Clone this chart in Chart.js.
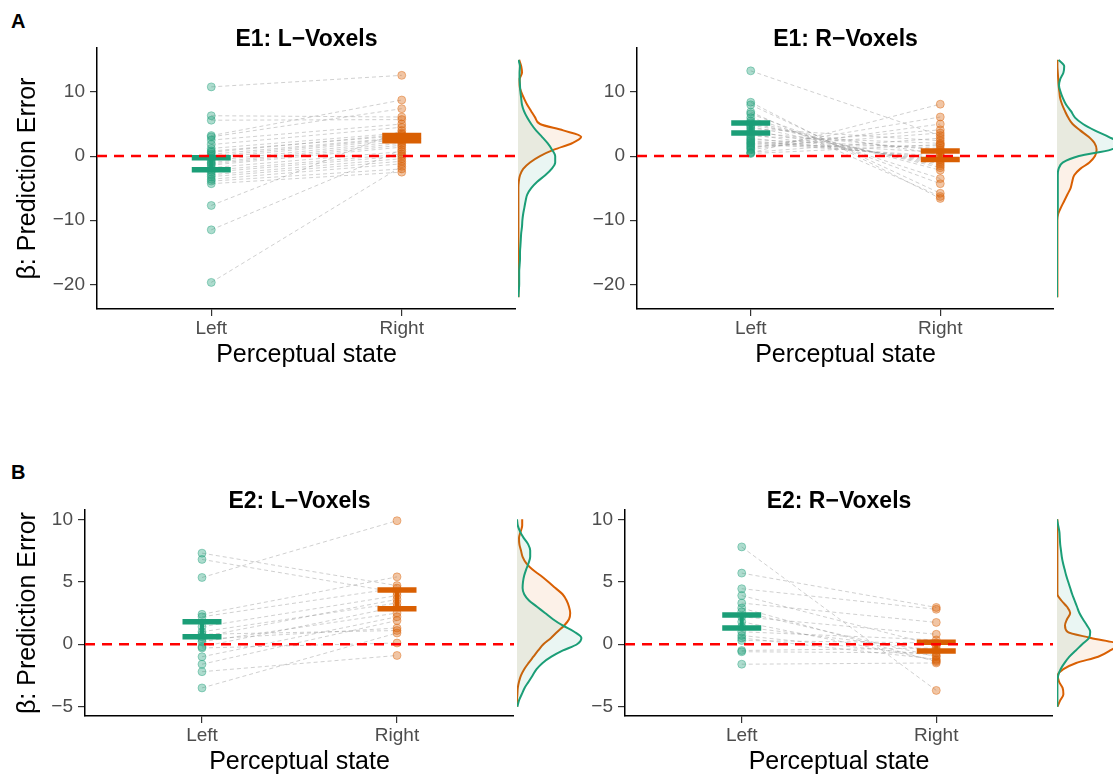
<!DOCTYPE html>
<html lang="en">
<head>
  <meta charset="UTF-8" />
  <title>Prediction error by perceptual state</title>
  <script src="https://cdn.jsdelivr.net/npm/chart.js"></script>
  <style>
    html, body { margin: 0; padding: 0; background: #fff; overflow: hidden; }
    #page { position: relative; width: 1113px; height: 774px; overflow: hidden; font-family: 'Liberation Sans', Arial, sans-serif; }
    #page canvas { position: absolute; }
    .tag { position: absolute; font-weight: bold; font-size: 20px; color: #000; }
  </style>
</head>
<body>
<div id="page">
  <div class="tag" style="left:11px; top:10px">A</div>
  <div class="tag" style="left:11px; top:461px">B</div>
  <canvas id="e1l"></canvas>
  <canvas id="e1l-dens"></canvas>
  <canvas id="e1r"></canvas>
  <canvas id="e1r-dens"></canvas>
  <canvas id="e2l"></canvas>
  <canvas id="e2l-dens"></canvas>
  <canvas id="e2r"></canvas>
  <canvas id="e2r-dens"></canvas>
</div>

<script>
  // ---- data ----
  const states = ['Left', 'Right'];

  // E1, L-voxels (one value per subject, same order in both arrays)
  const e1L_left  = [10.8, 6.3, 5.6, 3.2, 3.0, 2.5, 1.8, 1.2, 0.8, 0.6, 0.3, 0, -0.3, -0.7, -1.0, -1.2, -1.4, -1.8, -2.2, -2.5, -2.9, -3.2, -3.6, -3.9, -4.3, -7.7, -11.5, -19.7];
  const e1L_right = [12.6, 6.1, 5.7, 8.75, 7.4, 5.0, 4.5, 3.6, 3.2, 3.4, 2.9, 2.8, 2.6, 2.3, 2.0, 1.7, 1.4, 0.7, 0.3, 0, -0.4, -0.8, -1.2, -2.0, -2.5, 4.0, 1.0, -1.6];
  const e1L_errLeft  = [-2.14, -0.26];
  const e1L_errRight = [2.4, 3.2];

  // E1, R-voxels
  const e1R_left  = [13.3, 8.4, 8.0, 6.9, 6.6, 6.0, 5.5, 5.2, 4.8, 4.6, 4.3, 4.0, 3.7, 3.4, 3.1, 2.8, 2.6, 2.4, 2.2, 2.0, 1.8, 1.6, 1.4, 1.2, 1.0, 0.6, 0.5, 0.4];
  const e1R_right = [3.2, -6.6, -5.8, -6.3, -4.3, -3.5, -2.2, -1.8, 0.3, -1.5, 2.4, -1.2, 0.9, -0.9, 2.0, -0.6, 1.2, -0.3, 0.6, 0, 4.1, 1.6, 3.6, 6.1, 5.0, 2.8, 8.1, 1.8];
  const e1R_errLeft  = [3.6, 5.16];
  const e1R_errRight = [-0.52, 0.78];

  // E2, L-voxels
  const e2L_left  = [7.3, 6.8, 5.35, 2.4, 2.2, 1.4, 1.0, 0.8, 0.6, 0.4, 0.2, -0.2, -0.3, -1.0, -1.6, -2.2, -3.5];
  const e2L_right = [4.7, 4.15, 9.9, 5.4, 4.5, 3.9, 3.3, 1.1, 3.6, 1.3, 2.5, 3.0, 0.1, 2.2, 1.9, -0.9, 0.9];
  const e2L_errLeft  = [0.6, 1.8];
  const e2L_errRight = [2.85, 4.34];

  // E2, R-voxels
  const e2R_left  = [7.8, 5.7, 4.45, 3.9, 3.3, 2.9, 2.6, 2.2, 1.8, 1.4, 1.0, 0.7, 0.5, 0.3, -0.5, -0.6, -1.6];
  const e2R_right = [-3.7, 2.95, 2.8, -0.1, 1.75, -1.4, -1.0, 0.8, -1.3, -0.5, 0.35, -0.9, -1.2, 0.1, -0.3, -0.7, -1.5];
  const e2R_errLeft  = [1.3, 2.34];
  const e2R_errRight = [-0.54, 0.16];

  // density curves (value grid, density at each grid value)
  const gridE1 = [15, 14, 13, 12, 11, 10, 9, 8, 7, 6, 5, 4, 3, 2, 1, 0, -1, -2, -3, -4, -5, -6, -7, -8, -9, -10, -11, -12, -13, -14, -15, -16, -17, -18, -19, -20, -21, -22];
  const gridE2 = [10, 9.5, 9, 8.5, 8, 7.5, 7, 6.5, 6, 5.5, 5, 4.5, 4, 3.5, 3, 2.5, 2, 1.5, 1, 0.5, 0, -0.5, -1, -1.5, -2, -2.5, -3, -3.5, -4, -4.5, -5];

  const e1L_densLeft  = [0.001, 0.005, 0.004, 0.004, 0.005, 0.006, 0.008, 0.010, 0.015, 0.023, 0.033, 0.045, 0.060, 0.074, 0.085, 0.093, 0.093, 0.084, 0.068, 0.048, 0.033, 0.023, 0.019, 0.016, 0.013, 0.011, 0.010, 0.008, 0.007, 0.006, 0.005, 0.005, 0.004, 0.003, 0.003, 0.003, 0.002, 0.001];
  const e1L_densRight = [0.003, 0.008, 0.010, 0.004, 0.004, 0.008, 0.015, 0.023, 0.033, 0.043, 0.055, 0.113, 0.158, 0.135, 0.090, 0.055, 0.030, 0.013, 0.005, 0.002, 0.001, 0.001, 0.001, 0.001, 0.001, 0.001, 0.001, 0.001, 0.001, 0.001, 0.001, 0.001, 0.001, 0.001, 0.001, 0.001, 0.001, 0.001];
  const e1R_densLeft  = [0.004, 0.018, 0.016, 0.008, 0.005, 0.009, 0.015, 0.023, 0.035, 0.045, 0.065, 0.094, 0.129, 0.155, 0.135, 0.055, 0.015, 0.004, 0.002, 0.002, 0.002, 0.002, 0.002, 0.002, 0.001, 0, 0, 0, 0, 0, 0, 0, 0, 0, 0, 0, 0, 0];
  const e1R_densRight = [0.001, 0.001, 0.002, 0.003, 0.004, 0.006, 0.008, 0.013, 0.020, 0.028, 0.039, 0.058, 0.079, 0.094, 0.099, 0.095, 0.081, 0.058, 0.043, 0.038, 0.034, 0.026, 0.018, 0.010, 0.003, 0.001, 0.001, 0.001, 0.001, 0.001, 0.001, 0.001, 0.001, 0.001, 0.001, 0.001, 0.001, 0.001];
  const e2L_densLeft  = [0, 0.002, 0.008, 0.017, 0.028, 0.033, 0.033, 0.029, 0.023, 0.018, 0.015, 0.014, 0.018, 0.030, 0.050, 0.070, 0.090, 0.114, 0.143, 0.161, 0.150, 0.115, 0.086, 0.064, 0.049, 0.039, 0.029, 0.019, 0.012, 0.005, 0.001];
  const e2L_densRight = [0.013, 0.013, 0.009, 0.005, 0.006, 0.010, 0.014, 0.023, 0.038, 0.059, 0.078, 0.096, 0.114, 0.124, 0.130, 0.133, 0.130, 0.118, 0.101, 0.085, 0.066, 0.053, 0.041, 0.029, 0.018, 0.010, 0.005, 0.002, 0.001, 0, 0];
  const e2R_densLeft  = [0, 0.003, 0.006, 0.007, 0.008, 0.010, 0.012, 0.015, 0.019, 0.023, 0.028, 0.033, 0.038, 0.044, 0.050, 0.056, 0.065, 0.075, 0.083, 0.080, 0.063, 0.047, 0.031, 0.019, 0.009, 0.003, 0.001, 0.001, 0.001, 0.001, 0.001];
  const e2R_densRight = [0.001, 0.001, 0.001, 0.001, 0.001, 0.001, 0.001, 0.001, 0.001, 0.001, 0.001, 0.001, 0.001, 0.011, 0.025, 0.033, 0.025, 0.020, 0.026, 0.085, 0.153, 0.133, 0.103, 0.048, 0.016, 0.002, 0.005, 0.014, 0.016, 0.008, 0.001];

  const ticksE1 = [-20, -10, 0, 10];
  const ticksE2 = [-5, 0, 5, 10];

  // ---- styling / layout ----
  const TEAL = '#1b9e77';
  const ORANGE = '#d95f02';
  Chart.defaults.font.family = "'Liberation Sans', Arial, sans-serif";

  function place(canvas, left, top, w, h) {
    canvas.width = w;
    canvas.height = h;
    canvas.style.left = left + 'px';
    canvas.style.top = top + 'px';
    canvas.style.width = w + 'px';
    canvas.style.height = h + 'px';
  }

  const zeroLine = {
    id: 'zeroLine',
    afterDatasetsDraw(chart) {
      const { ctx, chartArea: a, scales: { y } } = chart;
      const py = y.getPixelForValue(0);
      ctx.save();
      ctx.strokeStyle = '#ff0000';
      ctx.lineWidth = 2.5;
      ctx.setLineDash([10, 7]);
      ctx.beginPath();
      ctx.moveTo(a.left, py);
      ctx.lineTo(a.right, py);
      ctx.stroke();
      ctx.restore();
    }
  };

  const minus = v => v < 0 ? '\u2212' + Math.abs(v) : String(v);

  function mainChart(id, p) {
    const canvas = document.getElementById(id);
    place(canvas, p.left, p.top, p.width, p.height);

    const pairLines = p.leftVals.map((v, i) => ({
      showLine: true,
      data: [{ x: 1, y: v }, { x: 2, y: p.rightVals[i] }],
      borderColor: 'rgba(150,150,150,0.45)',
      borderWidth: 1,
      borderDash: [4, 3],
      pointRadius: 0,
      order: 3
    }));

    const dots = (vals, x, rgb) => ({
      data: vals.map(v => ({ x, y: v })),
      pointRadius: 4,
      pointBackgroundColor: `rgba(${rgb},0.36)`,
      pointBorderColor: `rgba(${rgb},0.4)`,
      pointBorderWidth: 1,
      order: 2
    });

    const stem = (err, x, col) => ({
      showLine: true,
      data: err.map(v => ({ x, y: v })),
      borderColor: col,
      borderWidth: 4,
      pointRadius: 0,
      order: 1
    });

    const caps = (err, x, col) => ({
      data: err.map(v => ({ x, y: v })),
      pointStyle: 'line',
      pointRadius: 19.5,
      pointBorderColor: col,
      pointBorderWidth: 5.5,
      order: 0
    });

    const grid = { display: true, drawOnChartArea: false, drawTicks: true, tickLength: 7, color: '#333', lineWidth: 1.2 };
    const border = { display: true, color: '#000', width: 1.5 };

    new Chart(canvas, {
      type: 'scatter',
      data: {
        datasets: [
          ...pairLines,
          dots(p.leftVals, 1, '27,158,119'),
          dots(p.rightVals, 2, '217,95,2'),
          stem(p.errLeft, 1, TEAL),
          stem(p.errRight, 2, ORANGE),
          caps(p.errLeft, 1, TEAL),
          caps(p.errRight, 2, ORANGE)
        ]
      },
      options: {
        responsive: false,
        animation: false,
        events: [],
        layout: { padding: 0, autoPadding: false },
        plugins: {
          legend: { display: false },
          tooltip: { enabled: false },
          title: {
            display: true,
            text: p.title,
            color: '#000',
            fullSize: false,
            padding: { top: 13, bottom: 0 },
            font: { size: 23, weight: 'bold', lineHeight: 0.7 }
          }
        },
        scales: {
          x: {
            type: 'linear',
            min: 0.4,
            max: 2.6,
            afterBuildTicks: s => { s.ticks = states.map((_, i) => ({ value: i + 1 })); },
            ticks: { callback: v => states[v - 1], color: '#4d4d4d', font: { size: 19 }, padding: 1, autoSkip: false, maxRotation: 0 },
            grid, border,
            title: { display: true, text: 'Perceptual state', color: '#000', font: { size: 25 }, padding: { top: 0, bottom: 0 } },
            afterFit: s => { s.height = 61; s.paddingLeft = 0; s.paddingRight = 0; }
          },
          y: {
            type: 'linear',
            min: p.yMin,
            max: p.yMax,
            afterBuildTicks: s => { s.ticks = p.yTicks.map(v => ({ value: v })); },
            ticks: { callback: minus, color: '#4d4d4d', font: { size: 19 }, padding: 5 },
            grid, border,
            title: { display: p.yTitle, text: 'β: Prediction Error', color: '#000', font: { size: 25 }, padding: { top: 13, bottom: 0 } },
            afterFit: s => { s.width = p.axisW; s.paddingTop = 0; s.paddingBottom = 0; }
          }
        }
      },
      plugins: [zeroLine]
    });
  }

  function densityChart(id, p) {
    const canvas = document.getElementById(id);
    place(canvas, p.left, p.top, 100, p.height);
    const curve = (dens, col, fillCol) => ({
      data: p.grid.map((v, i) => ({ x: dens[i], y: v })),
      borderColor: col,
      backgroundColor: fillCol,
      borderWidth: 2,
      fill: 'origin',
      pointRadius: 0,
      cubicInterpolationMode: 'monotone'
    });
    new Chart(canvas, {
      type: 'line',
      data: {
        datasets: [
          curve(p.densLeft, TEAL, 'rgba(27,158,119,0.09)'),
          curve(p.densRight, ORANGE, 'rgba(217,95,2,0.09)')
        ]
      },
      options: {
        indexAxis: 'y',
        responsive: false,
        animation: false,
        events: [],
        layout: { padding: 0, autoPadding: false },
        plugins: { legend: { display: false }, tooltip: { enabled: false } },
        scales: {
          x: { type: 'linear', display: false, min: 0, max: 0.25 },
          y: { type: 'linear', display: false, min: p.yMin, max: p.yMax }
        }
      }
    });
  }

  // ---- panels ----
  mainChart('e1l', { left: 0, top: 19, width: 516, height: 351, axisW: 97, yTitle: true,
    title: 'E1: L\u2212Voxels', leftVals: e1L_left, rightVals: e1L_right, errLeft: e1L_errLeft, errRight: e1L_errRight,
    yMin: -23.85, yMax: 16.85, yTicks: ticksE1 });
  densityChart('e1l-dens', { left: 518, top: 48, height: 261, grid: gridE1, densLeft: e1L_densLeft, densRight: e1L_densRight, yMin: -23.85, yMax: 16.85 });

  mainChart('e1r', { left: 577, top: 19, width: 477, height: 351, axisW: 60, yTitle: false,
    title: 'E1: R\u2212Voxels', leftVals: e1R_left, rightVals: e1R_right, errLeft: e1R_errLeft, errRight: e1R_errRight,
    yMin: -23.85, yMax: 16.85, yTicks: ticksE1 });
  densityChart('e1r-dens', { left: 1057, top: 48, height: 261, grid: gridE1, densLeft: e1R_densLeft, densRight: e1R_densRight, yMin: -23.85, yMax: 16.85 });

  mainChart('e2l', { left: 0, top: 481, width: 514, height: 296, axisW: 85, yTitle: true,
    title: 'E2: L\u2212Voxels', leftVals: e2L_left, rightVals: e2L_right, errLeft: e2L_errLeft, errRight: e2L_errRight,
    yMin: -5.75, yMax: 10.75, yTicks: ticksE2 });
  densityChart('e2l-dens', { left: 517, top: 510, height: 206, grid: gridE2, densLeft: e2L_densLeft, densRight: e2L_densRight, yMin: -5.75, yMax: 10.75 });

  mainChart('e2r', { left: 565, top: 481, width: 488, height: 296, axisW: 60, yTitle: false,
    title: 'E2: R\u2212Voxels', leftVals: e2R_left, rightVals: e2R_right, errLeft: e2R_errLeft, errRight: e2R_errRight,
    yMin: -5.75, yMax: 10.75, yTicks: ticksE2 });
  densityChart('e2r-dens', { left: 1057, top: 510, height: 206, grid: gridE2, densLeft: e2R_densLeft, densRight: e2R_densRight, yMin: -5.75, yMax: 10.75 });
</script>
</body>
</html>
